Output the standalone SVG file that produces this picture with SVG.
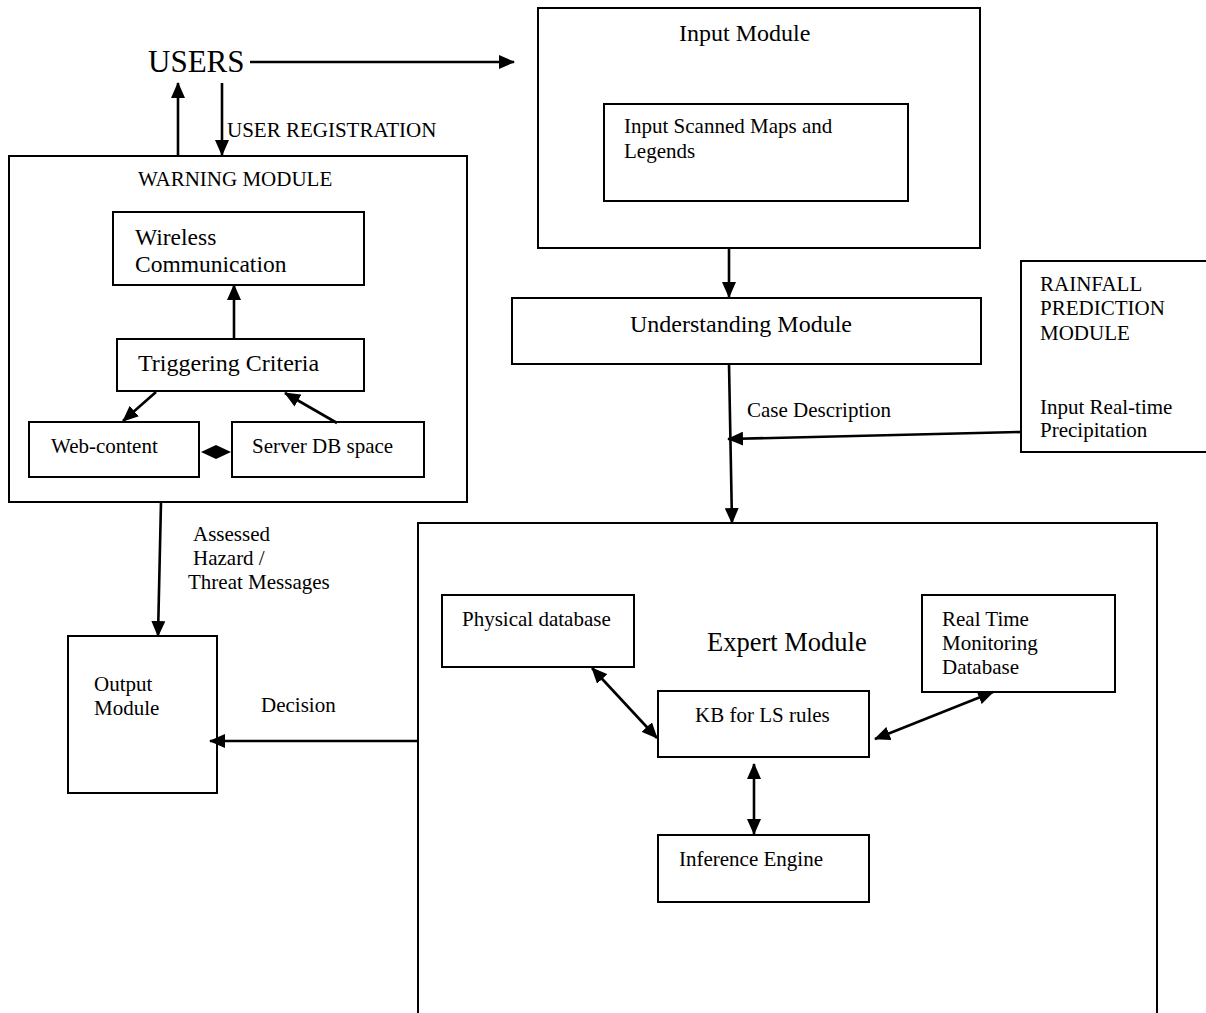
<svg xmlns="http://www.w3.org/2000/svg" width="1206" height="1013" viewBox="0 0 1206 1013">
<defs>
<style>
rect.box{fill:none;stroke:#000;stroke-width:2}
text{font-family:"Liberation Serif","Times New Roman",serif;font-size:21px;fill:#000}
.con line{stroke:#000;stroke-width:2.6;fill:none}
.big{font-size:24px}
</style>
<marker id="ah" viewBox="0 0 16 14" refX="15" refY="7" markerWidth="16" markerHeight="14" markerUnits="userSpaceOnUse" orient="auto-start-reverse"><path d="M0,0 L16,7 L0,14 z" fill="#000"/></marker>
</defs>
<rect width="1206" height="1013" fill="#fff"/>
<g id="users"><text x="148" y="72" style="font-size:31px">USERS</text></g>
<g id="input-module"><rect class="box" x="538" y="8" width="442" height="240"/><text class="big" x="679" y="41">Input Module</text></g>
<g id="input-scanned"><rect class="box" x="604" y="104" width="304" height="97"/><text x="624" y="133">Input Scanned Maps and</text><text x="624" y="158">Legends</text></g>
<g id="understanding"><rect class="box" x="512" y="298" width="469" height="66"/><text class="big" x="630" y="332">Understanding Module</text></g>
<g id="rainfall"><rect class="box" x="1021" y="261" width="200" height="191"/><text x="1040" y="291">RAINFALL</text><text x="1040" y="315">PREDICTION</text><text x="1040" y="340">MODULE</text><text x="1040" y="414">Input Real-time</text><text x="1040" y="437">Precipitation</text></g>
<g id="warning"><rect class="box" x="9" y="156" width="458" height="346"/><text x="138" y="186">WARNING MODULE</text></g>
<g id="wireless"><rect class="box" x="113" y="212" width="251" height="73"/><text x="135" y="245" style="font-size:23.5px">Wireless</text><text x="135" y="272" style="font-size:23.5px">Communication</text></g>
<g id="triggering"><rect class="box" x="117" y="339" width="247" height="52"/><text class="big" x="138" y="371">Triggering Criteria</text></g>
<g id="web-content"><rect class="box" x="29" y="422" width="170" height="55"/><text x="51" y="453">Web-content</text></g>
<g id="server-db"><rect class="box" x="232" y="422" width="192" height="55"/><text x="252" y="453">Server DB space</text></g>
<g id="output"><rect class="box" x="68" y="636" width="149" height="157"/><text x="94" y="691">Output</text><text x="94" y="715">Module</text></g>
<g id="expert"><rect class="box" x="418" y="523" width="739" height="500"/><text x="707" y="651" style="font-size:26.5px">Expert Module</text></g>
<g id="physical"><rect class="box" x="442" y="595" width="192" height="72"/><text x="462" y="626">Physical database</text></g>
<g id="realtime"><rect class="box" x="922" y="595" width="193" height="97"/><text x="942" y="626">Real Time</text><text x="942" y="650">Monitoring</text><text x="942" y="674">Database</text></g>
<g id="kb"><rect class="box" x="658" y="691" width="211" height="66"/><text x="695" y="722">KB for LS rules</text></g>
<g id="inference"><rect class="box" x="658" y="835" width="211" height="67"/><text x="679" y="866">Inference Engine</text></g>
<g id="connectors" class="con">
<line x1="250" y1="62" x2="514" y2="62" marker-end="url(#ah)"/>
<line x1="178" y1="156" x2="178" y2="83" marker-end="url(#ah)"/>
<line x1="222" y1="83" x2="222" y2="155" marker-end="url(#ah)"/>
<text x="227" y="137">USER REGISTRATION</text>
<line x1="234" y1="339" x2="234" y2="285" marker-end="url(#ah)"/>
<line x1="156" y1="392" x2="123" y2="421" marker-end="url(#ah)"/>
<line x1="337" y1="423" x2="285" y2="393" marker-end="url(#ah)"/>
<polygon points="201,452 216,445 231,452 216,459" fill="#000"/>
<line x1="161" y1="502" x2="158" y2="636" marker-end="url(#ah)"/>
<text x="193" y="541">Assessed</text><text x="193" y="565">Hazard /</text><text x="188" y="589">Threat Messages</text>
<line x1="418" y1="741" x2="210" y2="741" marker-end="url(#ah)"/>
<text x="261" y="712">Decision</text>
<line x1="729" y1="248" x2="729" y2="297" marker-end="url(#ah)"/>
<line x1="729" y1="364" x2="732" y2="523" marker-end="url(#ah)"/>
<line x1="1021" y1="432" x2="728" y2="439" marker-end="url(#ah)"/>
<text x="747" y="417">Case Description</text>
<line x1="592" y1="668" x2="657" y2="738" marker-start="url(#ah)" marker-end="url(#ah)"/>
<line x1="875" y1="739" x2="993" y2="692" marker-start="url(#ah)" marker-end="url(#ah)"/>
<line x1="754" y1="764" x2="754" y2="834" marker-start="url(#ah)" marker-end="url(#ah)"/>
</g>
</svg>
